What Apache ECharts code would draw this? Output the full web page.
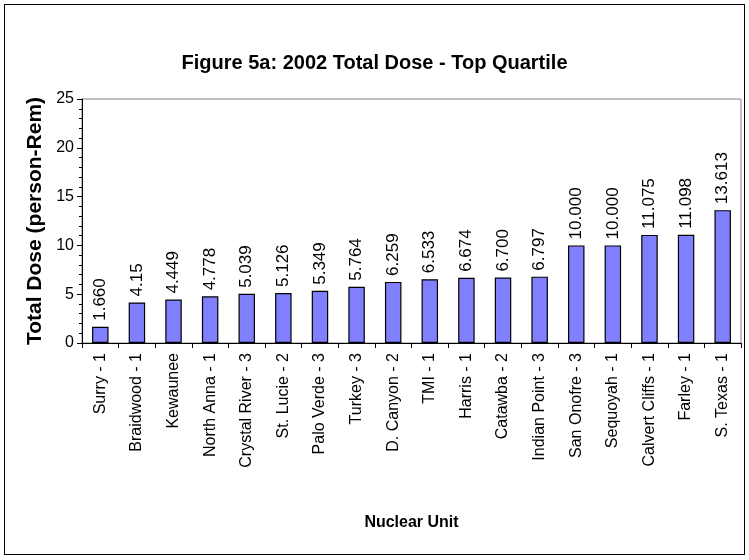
<!DOCTYPE html>
<html>
<head>
<meta charset="utf-8">
<script src="https://cdn.jsdelivr.net/npm/echarts@6/dist/echarts.min.js"></script>
<style>
  html, body { margin: 0; padding: 0; background: #fff; }
  #main { position: absolute; left: 4px; top: 4px; width: 739px; height: 549px; border: 1px solid #000; }
</style>
</head>
<body>
<div id="main"></div>
<script>
var units = ['Surry - 1', 'Braidwood - 1', 'Kewaunee', 'North Anna - 1', 'Crystal River - 3',
    'St. Lucie - 2', 'Palo Verde - 3', 'Turkey - 3', 'D. Canyon - 2', 'TMI - 1', 'Harris - 1',
    'Catawba - 2', 'Indian Point - 3', 'San Onofre - 3', 'Sequoyah - 1', 'Calvert Cliffs - 1',
    'Farley - 1', 'S. Texas - 1'];
var doses = [1.660, 4.15, 4.449, 4.778, 5.039, 5.126, 5.349, 5.764, 6.259, 6.533, 6.674,
    6.700, 6.797, 10.000, 10.000, 11.075, 11.098, 13.613];
var doseLabels = ['1.660', '4.15', '4.449', '4.778', '5.039', '5.126', '5.349', '5.764', '6.259',
    '6.533', '6.674', '6.700', '6.797', '10.000', '10.000', '11.075', '11.098', '13.613'];

var chart = echarts.init(document.getElementById('main'));
chart.setOption({
    animation: false,
    title: {
        text: 'Figure 5a: 2002 Total Dose - Top Quartile',
        left: 'center',
        top: 43,
        textStyle: { fontFamily: 'Liberation Sans', fontSize: 20, fontWeight: 'bold', color: '#000' }
    },
    grid: { left: 77, right: 3, top: 94, bottom: 211, show: true, borderColor: '#808080', borderWidth: 1 },
    xAxis: {
        type: 'category',
        data: units,
        name: 'Nuclear Unit',
        nameLocation: 'middle',
        nameGap: 172,
        nameTextStyle: { fontFamily: 'Liberation Sans', fontSize: 16, fontWeight: 'bold', color: '#000' },
        axisLine: { lineStyle: { color: '#000' } },
        axisTick: { show: true, alignWithLabel: false, length: 5, lineStyle: { color: '#000' } },
        axisLabel: { rotate: 90, fontFamily: 'Arial, Liberation Sans', fontSize: 16, color: '#000', margin: 10, interval: 0 }
    },
    yAxis: {
        type: 'value',
        min: 0,
        max: 25,
        interval: 5,
        name: 'Total Dose (person-Rem)',
        nameLocation: 'middle',
        nameGap: 30,
        nameTextStyle: { fontFamily: 'Arial, Liberation Sans', fontSize: 21, fontWeight: 'bold', color: '#000' },
        axisLine: { show: true, lineStyle: { color: '#000' } },
        axisTick: { show: true, length: 5, lineStyle: { color: '#000' } },
        minorTick: { show: true, splitNumber: 5, length: 3, lineStyle: { color: '#000' } },
        splitLine: { show: false },
        axisLabel: { fontFamily: 'Liberation Sans', fontSize: 16, color: '#000', margin: 8 }
    },
    series: [{
        type: 'bar',
        data: doses,
        barWidth: '45%',
        itemStyle: { color: '#8080FF', borderColor: '#000', borderWidth: 1.2 },
        label: {
            show: true,
            position: 'top',
            rotate: 90,
            align: 'left',
            verticalAlign: 'middle',
            distance: 6,
            fontFamily: 'Arial, Liberation Sans',
            fontSize: 17,
            color: '#000',
            formatter: function (p) { return doseLabels[p.dataIndex]; }
        }
    }]
});
</script>
</body>
</html>
